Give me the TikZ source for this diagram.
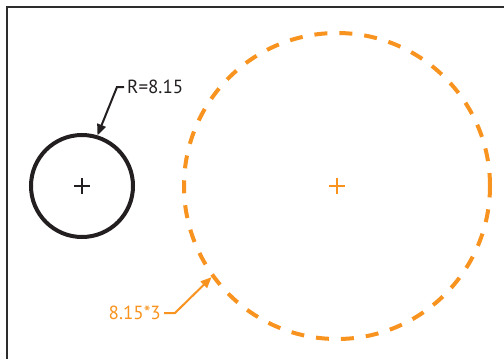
\documentclass[tikz,border=0pt]{standalone}
\usepackage{fontspec}
\setmainfont{PT Sans}
\usetikzlibrary{arrows.meta}
\definecolor{arancio}{RGB}{247,147,30}
\definecolor{inchiostro}{RGB}{35,31,32}
\definecolor{cornice}{RGB}{45,45,45}

\begin{document}
\begin{tikzpicture}[x=1pt, y=1pt]
    % --- CONFIGURAZIONE ---
    \tikzset{
        ring_style/.style={circle, draw, line width=4pt, inner sep=0pt},
        cross_style/.style={line width=1.8pt},
        label_style/.style={font=\fontsize{19}{22}\selectfont, inner sep=3pt},
        leader_style/.style={line width=2pt, -{Triangle[length=11pt, width=9pt]}}
    }

    % Raggio del cerchio piccolo
    \def\R{51}
    % Semi-braccio della croce
    \def\C{8}

    \useasboundingbox (0,0) rectangle (504,-359);

    % Cornice
    \draw[cornice, line width=1.5pt] (7,-359) -- (7,-7) -- (504,-7);

    % ===================================================
    % 1. CERCHIO PICCOLO
    % ===================================================
    \node[ring_style, inchiostro, minimum size={2*\R}] (small) at (82,-186) {};
    \draw[cross_style, inchiostro] (small.center) ++(-\C,0) -- ++(2*\C,0);
    \draw[cross_style, inchiostro] (small.center) ++(0,-\C) -- ++(0,2*\C);

    \node[label_style, inchiostro, anchor=west] (rlab) at (124,-87) {R=8.15};
    \coordinate (relbow) at (117,-87);
    \draw[leader_style, inchiostro] (rlab.west) -- (relbow) -- (small.73);

    % ===================================================
    % 2. CERCHIO GRANDE (raggio x3)
    % ===================================================
    \node[ring_style, arancio, dash pattern=on 13pt off 12pt, minimum size={6*\R}] (big) at (337,-186) {};
    \draw[cross_style, arancio] (big.center) ++(-\C,0) -- ++(2*\C,0);
    \draw[cross_style, arancio] (big.center) ++(0,-\C) -- ++(0,2*\C);

    \node[label_style, arancio, anchor=east] (olab) at (164,-313) {8.15*3};
    \coordinate (oelbow) at (175,-313);
    \draw[leader_style, arancio] (olab.east) -- (oelbow) -- (big.216);

\end{tikzpicture}
\end{document}
